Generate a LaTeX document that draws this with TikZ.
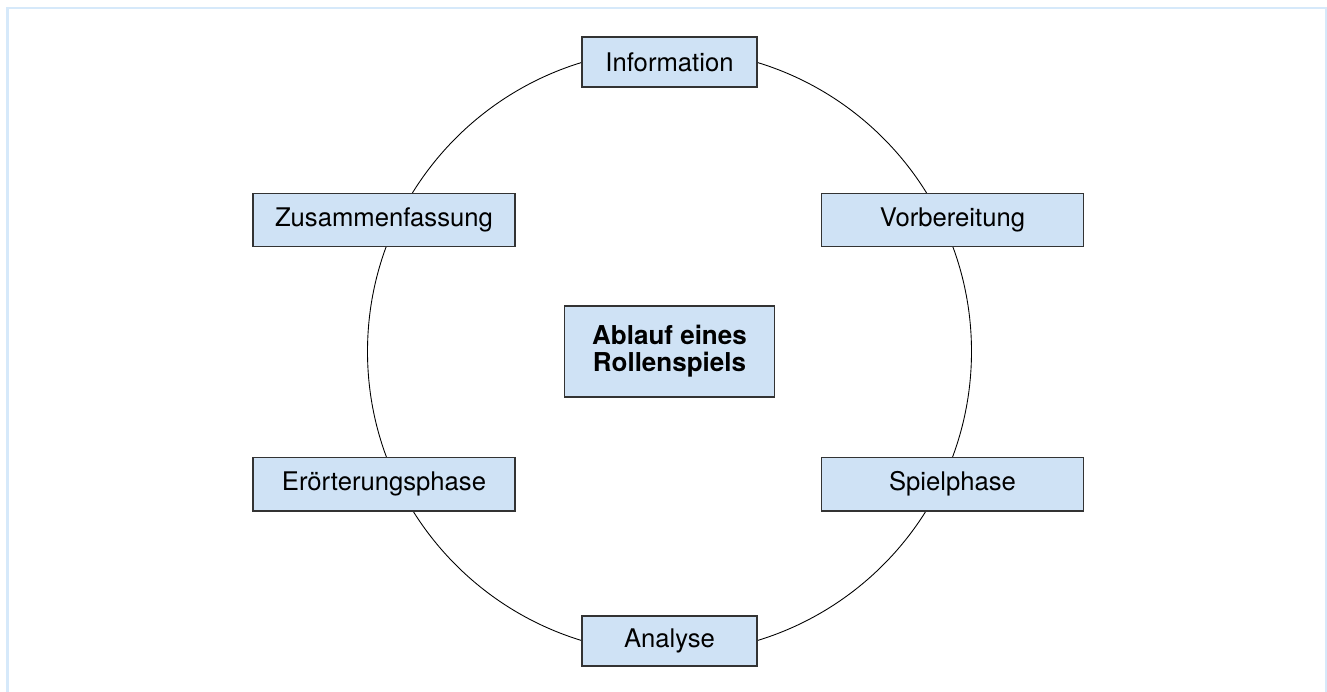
\documentclass[tikz,border=0pt]{standalone}
\usepackage{fontspec}
\setmainfont{TeX Gyre Heros}
\usepackage{tikz}
\usetikzlibrary{positioning}

\definecolor{boxblue}{HTML}{CFE2F5}
\definecolor{frameblue}{HTML}{D6E9FA}
\definecolor{boxline}{HTML}{333333}

\tikzset{
  phase/.style={draw=boxline,fill=boxblue,rectangle,line width=0.85pt,
    font=\fontsize{14.6}{15.4}\selectfont,text=black,inner sep=0pt},
  shortbox/.style={phase,minimum height=1cm,minimum width=3.5cm},
  longbox/.style={phase,minimum height=1.07cm,minimum width=5.24cm}
}

\begin{document}
\begin{tikzpicture}
            \useasboundingbox (-13.39,-6.79) rectangle (13.15,7.03);
            % frame
            \draw [frameblue,line width=1.7pt] (-13.24,-7) -- (-13.24,6.87) -- (13.13,6.87) -- (13.13,-7);
            % cycle
            \draw [line width=0.5pt] (0,0) circle [radius=6.04cm];
            \node [phase,minimum height=1.82cm,minimum width=4.2cm,align=center,
              font=\fontsize{14.8}{15.4}\selectfont\bfseries] (ablauf) at (0,0) {Ablauf eines\\Rollenspiels};
            \node [shortbox] (info) at (0,5.79) {Information};
            \node [longbox] (vorb) at (5.66,2.63) {Vorbereitung};
            \node [longbox] (spiel) at (5.66,-2.65) {Spielphase};
            \node [shortbox] (analyse) at (0,-5.79) {Analyse};
            \node [longbox] (eroert) at (-5.71,-2.65) {Erörterungsphase};
            \node [longbox] (zusamm) at (-5.71,2.63) {Zusammenfassung};
        \end{tikzpicture}
\end{document}
